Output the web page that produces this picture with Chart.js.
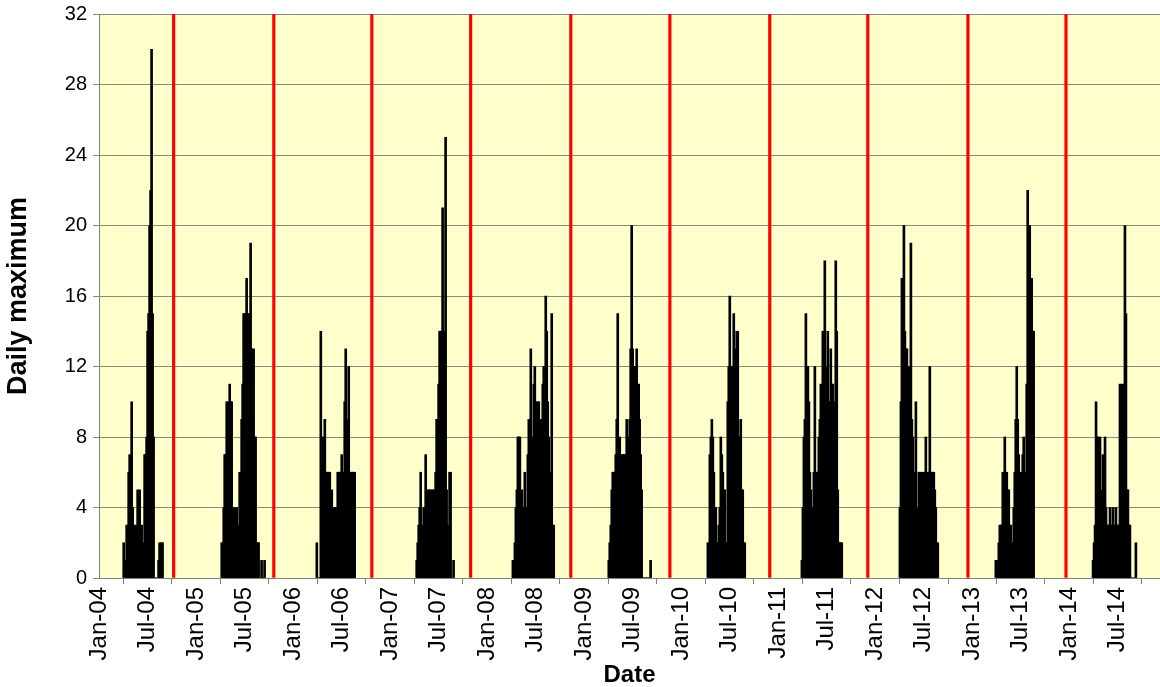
<!DOCTYPE html>
<html>
<head>
<meta charset="utf-8">
<script src="https://cdn.jsdelivr.net/npm/chart.js@4/dist/chart.umd.min.js"></script>
<style>
html, body { margin: 0; padding: 0; background: #fff; }
</style>
</head>
<body>
<canvas id="dailyMax" width="1160" height="687"></canvas>
<script>
// values, one every STEP_DAYS from each season start
var STEP_DAYS = 3.75;
var seasonStarts = ['2004-04-03', '2005-04-07', '2006-03-31', '2007-04-11', '2008-04-07', '2009-04-03',
                    '2010-04-11', '2011-03-31', '2012-04-03', '2013-03-30', '2014-03-31'];
var season2004 = [2,0,1,3,3,6,7,4,10,4, 3,1,3,1,5,4,5,1,3,1, 2,7,7,8,14,15,20,22,30,15, 8,0,0,0,0,1,2,0,2,2];
var season2005 = [2,2,4,7,7,10,8,10,11,10, 10,4,2,4,3,4,2,3,6,4, 9,11,15,15,11,17,15,9,15,19, 13,8,13,8,8,2,2,2,0,0, 1,0,0,1];
var season2006 = [2,0,0,0,14,8,6,8,9,6, 6,6,6,6,1,5,2,4,4,4, 3,6,6,6,6,7,4,6,10,13, 9,6,12,6,2,6,6,6,6];
var season2007 = [1,2,3,4,6,2,3,4,2,7, 5,2,5,5,3,5,5,1,5,6, 9,9,11,14,14,14,21,14,14,25, 5,3,1,6,6,0,0,1];
var season2008 = [1,1,2,4,5,8,8,8,5,5, 3,4,6,4,4,7,9,6,13,8, 7,11,12,10,9,10,10,9,9,9, 11,12,9,16,14,10,8,6,6,15, 3,3];
var season2009 = [1,2,3,5,6,6,6,7,9,15, 7,8,6,7,7,7,7,4,9,4, 8,9,13,20,13,12,10,12,13,11, 11,9,7,5,0,0,0,0,0,0, 0,0,1];
var season2010 = [2,2,7,8,9,8,6,4,4,2, 2,3,4,8,7,6,5,5,2,2, 10,12,16,12,9,12,15,12,13,14, 14,8,8,9,5,5,2,2];
var season2011 = [1,4,8,9,15,12,12,10,6,5, 4,4,6,12,6,6,6,8,9,11, 10,14,13,18,10,12,14,10,10,13, 11,11,10,9,18,14,5,2,2,2, 2];
var season2012 = [4,10,17,10,20,14,13,13,10,12, 9,19,9,8,6,2,10,4,1,6, 6,6,4,6,6,3,8,4,6,6, 12,6,6,6,6,5,4,2,2];
var season2013 = [1,1,1,2,3,3,3,6,5,8, 6,6,5,5,3,3,2,2,4,6, 9,12,9,7,6,6,4,7,8,6, 4,11,22,20,20,17,17,14,14];
var season2014 = [1,2,3,10,8,8,5,8,5,4, 7,4,8,4,3,3,3,4,3,3, 4,3,3,4,3,3,3,11,4,11, 6,11,20,15,5,5,3,3,0,0, 0,0,0,2];
var seasons = [season2004, season2005, season2006, season2007, season2008, season2009,
               season2010, season2011, season2012, season2013, season2014];

// red season markers
var markerDates = ['2004-10-08', '2005-10-20', '2006-10-24', '2007-10-31', '2008-11-11',
                   '2009-11-19', '2010-11-30', '2011-12-04', '2012-12-15', '2013-12-19'];

var xTickDates = ['2004-01-01','2004-07-01','2005-01-01','2005-07-01','2006-01-01','2006-07-01',
                  '2007-01-01','2007-07-01','2008-01-01','2008-07-01','2009-01-01','2009-07-01',
                  '2010-01-01','2010-07-01','2011-01-01','2011-07-01','2012-01-01','2012-07-01',
                  '2013-01-01','2013-07-01','2014-01-01','2014-07-01'];
var xTickLabels = ['Jan-04','Jul-04','Jan-05','Jul-05','Jan-06','Jul-06','Jan-07','Jul-07',
                   'Jan-08','Jul-08','Jan-09','Jul-09','Jan-10','Jul-10','Jan-11','Jul-11',
                   'Jan-12','Jul-12','Jan-13','Jul-13','Jan-14','Jul-14'];
var xEndDate = '2014-12-08';
var yMin = 0, yMax = 32, yStep = 4;

function dayOf(str) {
  var p = str.split('-');
  return (Date.UTC(+p[0], +p[1] - 1, +p[2]) - Date.UTC(2004, 0, 1)) / 86400000;
}

var barPoints = [];
seasons.forEach(function(vals, s) {
  var start = dayOf(seasonStarts[s]);
  vals.forEach(function(v, i) {
    barPoints.push({x: start + i * STEP_DAYS, y: v});
  });
});

var markerPoints = markerDates.map(function(d) {
  return {x: dayOf(d), y: yMax};
});

var plotBackground = {
  id: 'plotBackground',
  beforeDraw: function(chart) {
    var a = chart.chartArea;
    var c = chart.ctx;
    c.save();
    c.fillStyle = '#FFFFCC';
    c.fillRect(a.left, a.top, a.right - a.left, a.bottom - a.top);
    c.restore();
  }
};

var fam = "'Liberation Sans', Arial, sans-serif";

new Chart(document.getElementById('dailyMax'), {
  type: 'bar',
  data: {
    datasets: [{
      data: markerPoints,
      backgroundColor: '#FF0000',
      barThickness: 2.5,
      grouped: false,
      order: 0
    }, {
      data: barPoints,
      backgroundColor: '#000000',
      barThickness: 2,
      grouped: false,
      order: 1
    }]
  },
  options: {
    responsive: false,
    animation: false,
    devicePixelRatio: 1,
    layout: {padding: {top: 14, right: 0, left: 0, bottom: 0}},
    plugins: {legend: {display: false}, tooltip: {enabled: false}},
    scales: {
      x: {
        type: 'linear',
        offset: false,
        min: 0,
        max: dayOf(xEndDate),
        afterBuildTicks: function(scale) {
          scale.ticks = xTickDates.map(function(d) { return {value: dayOf(d)}; });
        },
        afterFit: function(scale) {
          scale.height = 109;
          scale.paddingLeft = 0;
          scale.paddingRight = 0;
        },
        ticks: {
          autoSkip: false,
          maxRotation: 90,
          minRotation: 90,
          padding: 3,
          color: '#000',
          font: {family: fam, size: 24},
          callback: function(value, index) { return xTickLabels[index]; }
        },
        grid: {drawOnChartArea: false, drawTicks: true, tickLength: 6, color: '#808080'},
        border: {display: true, color: '#808080'},
        title: {display: true, text: 'Date', color: '#000', font: {family: fam, size: 24, weight: 'bold'},
                padding: {top: 0, bottom: -3}}
      },
      y: {
        min: yMin,
        max: yMax,
        afterFit: function(scale) {
          scale.width = 99;
          scale.paddingTop = 0;
          scale.paddingBottom = 0;
        },
        ticks: {stepSize: yStep, padding: 6, color: '#000', font: {family: fam, size: 20}},
        grid: {color: '#8a8a7a', tickLength: 6},
        border: {display: true, color: '#808080'},
        title: {display: true, text: 'Daily maximum', color: '#000', font: {family: fam, size: 27, weight: 'bold'},
                padding: {top: 2, bottom: 0}}
      }
    }
  },
  plugins: [plotBackground]
});
</script>
</body>
</html>
